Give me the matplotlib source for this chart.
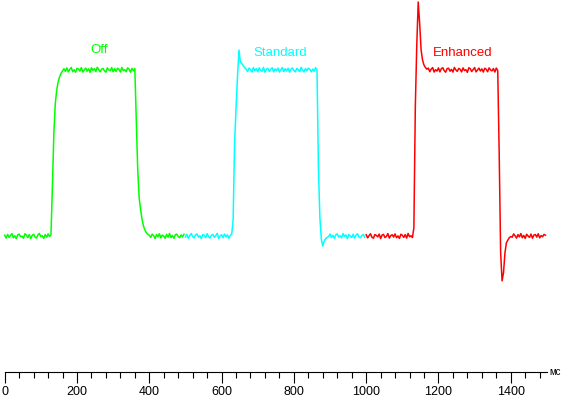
import matplotlib
matplotlib.use("agg")
import matplotlib.pyplot as plt
import numpy as np
from matplotlib.ticker import MultipleLocator

# response traces, 4 ms sampling, 0 = black level, 100 = white level
step_ms = 4
off_start = 0
off_vals = [
    0.5, -1.2, 1.0, -0.8, 0.3, 1.5, -1.0, 0.2, -1.6, 0.8, 1.2, -0.5, 0.0, -1.3, 1.4, 0.6, -0.9,
    0.9, -1.5, 0.4, 1.1, -0.6, -1.2, 0.7, 1.6, -0.3, 0.2, -1.4, 0.9, -0.7, 1.3, -0.2, 0.5,
    30, 62, 80, 88, 93, 96, 98, 99.5,
    100.8, 99.2, 101.3, 98.9, 100.4, 101.6, 99.0, 100.2, 98.7, 101.1, 100.6, 99.4, 101.5, 98.8,
    100.0, 101.2, 99.3, 100.7, 98.6, 101.4, 99.8, 100.9, 99.1, 101.7, 100.3, 98.9, 100.5, 101.0,
    99.5, 98.7, 101.3, 100.1, 99.6, 101.5, 98.9, 100.8, 99.2, 101.1, 100.4, 98.8, 101.6, 99.7,
    100.2, 99.0, 101.3, 100.6, 98.7, 101.0, 99.5, 100.9,
    70, 40, 23, 16, 10, 6, 3.6, 2, 1, 0.5,
    -0.8, 1.2, 0.3, -1.5, 0.9, -0.4, 1.4, -1.1, 0.6, 0.0, -1.3, 1.0, -0.6, 1.6, -0.9, 0.4,
    -1.4, 0.8, 1.2, -0.3, -1.0, 0.7, -0.5, 1.1,
]
std_start = 500
std_vals = [
    -0.6, 1.1, -1.3, 0.4, 1.5, -0.2, -1.1, 0.8, 1.3, -0.7, 0.2, -1.5, 0.9, 0.5, -0.9, 1.4, -0.4,
    -1.2, 0.6, 1.0, -0.8, 0.3, 1.6, -1.4, 0.1, 0.8, -1.0, 1.2, -0.5, 0.7, -1.3, 0.4, 1.0,
    10, 56, 77, 96, 112, 105, 104, 102.5, 101.5, 100.5,
    99.1, 101.2, 100.3, 98.8, 101.5, 99.6, 100.9, 98.9, 101.3, 100.0, 99.3, 101.6, 98.7, 100.6,
    101.0, 99.2, 100.4, 101.4, 98.9, 100.7, 99.5, 101.2, 98.8, 100.2, 101.5, 99.0, 100.8, 99.4,
    101.1, 98.7, 100.5, 101.3, 99.7, 98.9, 101.0, 100.3, 99.1, 101.6, 100.0, 98.8, 100.9, 99.6,
    101.2, 100.4, 98.9, 100.6, 99.3, 101.4, 100.1,
    40, 11, -2, -6, -3, -1.5, -0.8, -0.3,
    1.2, -0.9, 0.5, -1.4, 0.8, 1.3, -0.6, 0.2, -1.1, 1.5, -0.3, 0.7, -1.5, 0.9, 0.0, -0.8,
    1.1, -1.2, 0.6, 1.4, -0.5, -1.0, 0.3, 1.0, -0.7,
]
enh_start = 1000
enh_vals = [
    0.8, -1.1, 0.2, 1.4, -0.7, -1.3, 0.9, 0.4, -0.5, 1.2, -1.5, 0.6, 1.0, -0.9, -0.2, 1.5, -1.2,
    0.3, 0.8, -0.6, 1.3, -1.0, 0.1, -1.4, 1.1, 0.5, -0.8, 0.9, -1.2, 1.6, -0.4, 0.2, -0.9,
    5, 78, 115, 141, 128, 112, 106, 103, 101.5, 100.5,
    101.2, 99.0, 100.6, 101.5, 98.8, 100.2, 99.4, 101.3, 98.9, 100.8, 101.4, 99.6, 98.7, 100.9,
    101.1, 99.3, 100.4, 98.8, 101.6, 100.1, 99.2, 101.0, 100.5, 98.9, 101.3, 99.7, 100.2, 98.6,
    101.4, 100.8, 99.1, 100.3, 101.5, 98.9, 100.0, 101.2, 99.4, 100.7, 98.8, 101.1, 100.5, 99.0,
    101.3, 100.1, 99.5, 100.9, 98.8, 101.2, 99.7,
    50, -10, -27, -22, -10, -4, -2.4, -1, -0.3,
    -0.7, 1.3, 0.2, -1.2, 0.9, -0.5, 1.5, -1.0, 0.4, -1.4, 1.1, 0.0, -0.8, 1.2, -1.3, 0.6,
    0.9, -0.6, 1.4, -1.1, 0.3, -0.4, 1.0, 0.5,
]

labels = ["Off", "Standard", "Enhanced"]
starts = [off_start, std_start, enh_start]
traces = [off_vals, std_vals, enh_vals]
colors = ["#00ff00", "#00ffff", "#ff0000"]
label_pos = [(261, 112), (761, 110), (1267, 110)]

fig = plt.figure(figsize=(5.69, 3.97), dpi=100)
ax = fig.add_axes([4.7 / 569, (397 - 371.7) / 397, 542.2 / 569, 371.7 / 397])

for name, t0, vals, col, (lx, ly) in zip(labels, starts, traces, colors, label_pos):
    t = t0 + step_ms * np.arange(len(vals))
    ax.plot(t, vals, color=col, lw=1.1, clip_on=False)
    ax.text(lx, ly, name, color=col, ha="center", va="center",
            fontsize=9.5, family=["Liberation Sans", "DejaVu Sans"])

ax.set_xlim(0, 1500)
ax.set_ylim(-81.7, 142.2)
for s in ["top", "left", "right"]:
    ax.spines[s].set_visible(False)
ax.spines["bottom"].set_linewidth(0.8)
ax.set_yticks([])
ax.xaxis.set_major_locator(MultipleLocator(200))
ax.xaxis.set_minor_locator(MultipleLocator(40))
ax.tick_params(axis="x", which="major", length=8, width=0.8, direction="out", pad=2,
               labelsize=9)
ax.tick_params(axis="x", which="minor", length=4.5, width=0.8, direction="out")
for lab in ax.get_xticklabels():
    lab.set_family(["Liberation Sans Narrow", "Liberation Sans"])
ax.text(1508, -81.7, "мс", ha="left", va="center", fontsize=7,
        family=["Liberation Sans", "DejaVu Sans"], clip_on=False)
ax.patch.set_visible(False)

fig.savefig("out.png", dpi=100)
